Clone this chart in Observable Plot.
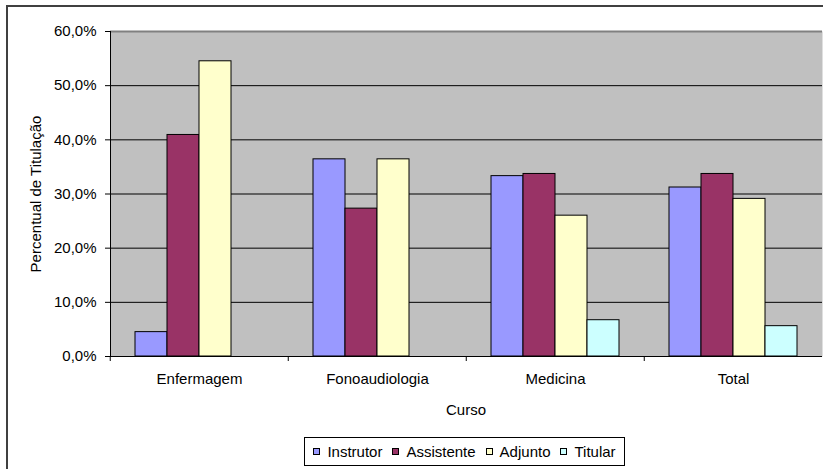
<!DOCTYPE html>
<html>
<head>
<meta charset="utf-8">
<script src="https://cdn.jsdelivr.net/npm/d3@7"></script>
<script src="https://cdn.jsdelivr.net/npm/@observablehq/plot@0.6"></script>
<style>
  html, body { margin: 0; padding: 0; background: #fff; overflow: hidden; }
  #wrap { position: relative; width: 823px; height: 469px; font-family: "Liberation Sans", Arial, sans-serif; color: #000; }
  #border { position: absolute; left: 6px; top: 5px; width: 900px; height: 600px; border-left: 2px solid #404040; border-top: 2px solid #404040; }
  #chart { position: absolute; left: 0; top: 0; }
  .ytitle { position: absolute; left: 35px; top: 193.5px; transform: translate(-50%, -50%) rotate(-90deg); white-space: nowrap; font-size: 15px; }
  .xtitle { position: absolute; left: 466px; top: 409px; transform: translate(-50%, -50%); font-size: 15px; }
  #legend { position: absolute; left: 304px; top: 437px; width: 319px; height: 27px; border: 1px solid #000; background: #fff;
            display: flex; align-items: center; justify-content: center; font-size: 15px; }
  .item { display: flex; align-items: center; margin: 0 5px; }
  .sw { width: 5px; height: 5px; border: 1px solid #000; margin-right: 7px; }
</style>
</head>
<body>
<div id="wrap">
  <div id="border"></div>
  <div id="chart"></div>
  <div class="ytitle">Percentual de Titulação</div>
  <div class="xtitle">Curso</div>
  <div id="legend"></div>
</div>
<script>
const categories = ["Enfermagem", "Fonoaudiologia", "Medicina", "Total"];
const series = ["Instrutor", "Assistente", "Adjunto", "Titular"];
const instrutor = [4.5, 36.4, 33.3, 31.2];
const assistente = [40.9, 27.3, 33.7, 33.7];
const adjunto = [54.5, 36.4, 26.0, 29.1];
const titular = [null, null, 6.7, 5.6];
const colors = ["#9999FF", "#993366", "#FFFFCC", "#CCFFFF"];
const yTicks = [0, 10, 20, 30, 40, 50, 60];

const valuesBySeries = [instrutor, assistente, adjunto, titular];
const data = [];
categories.forEach((c, i) => {
  series.forEach((s, j) => {
    const v = valuesBySeries[j][i];
    if (v != null) data.push({curso: c, serie: s, valor: v});
  });
});

const W = 823, H = 469, ML = 109, MR = 0, MT = 31, MB = 113;
const bandW = (W - ML - MR) / categories.length;
const fmt = d => d.toFixed(1).replace(".", ",") + "%";

const chart = Plot.plot({
  width: W, height: H,
  marginLeft: ML, marginRight: MR, marginTop: MT, marginBottom: MB,
  style: {fontFamily: "'Liberation Sans', Arial, sans-serif", fontSize: "15px", background: "transparent", color: "#000"},
  fx: {domain: categories, padding: 0, label: null, axis: null},
  x: {domain: series, paddingInner: 0, paddingOuter: 0.746, axis: null},
  y: {domain: [0, 60], axis: null},
  color: {domain: series, range: colors},
  marks: [
    Plot.frame({fill: "#C0C0C0", facet: "super"}),
    Plot.ruleY(yTicks.slice(1, -1), {stroke: "#000", strokeWidth: 1}),
    Plot.ruleY([60], {stroke: "#808080", strokeWidth: 2}),
    Plot.barY(data, {fx: "curso", x: "serie", y: "valor", fill: "serie", stroke: "#000", strokeWidth: 1}),
    Plot.ruleY([0], {stroke: "#000", strokeWidth: 1}),
    Plot.frame({anchor: "left", stroke: "#000", facet: "super"}),
    Plot.axisY({ticks: yTicks, tickSize: 5, tickPadding: 9, tickFormat: fmt, label: null, fontSize: 15}),
    Plot.axisFx({anchor: "bottom", tickSize: 0, tickPadding: 17, label: null, fontSize: 15}),
    Plot.axisFx({anchor: "bottom", tickSize: 5, fill: "none", label: null, dx: -bandW / 2})
  ]
});
document.getElementById("chart").appendChild(chart);

const legend = document.getElementById("legend");
series.forEach((s, j) => {
  const it = document.createElement("div");
  it.className = "item";
  const sw = document.createElement("div");
  sw.className = "sw";
  sw.style.background = colors[j];
  const t = document.createElement("span");
  t.textContent = s;
  it.appendChild(sw); it.appendChild(t);
  legend.appendChild(it);
});
</script>
</body>
</html>
